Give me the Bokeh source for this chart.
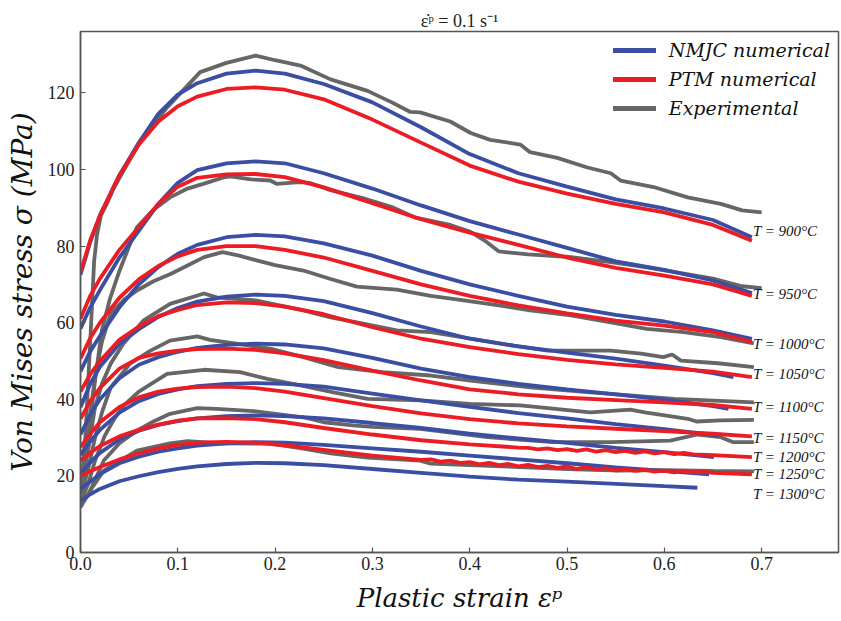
from bokeh.plotting import figure
from bokeh.models import Range1d, FixedTicker
from bokeh.embed import file_html
from bokeh.resources import INLINE
from bokeh.core.properties import value

# ---------------- data ----------------
temps = ["900", "950", "1000", "1050", "1100", "1150", "1200", "1250", "1300"]

grid = [0, 0.01, 0.02, 0.04, 0.06, 0.08, 0.10, 0.12, 0.15, 0.18, 0.21, 0.25,
        0.30, 0.35, 0.40, 0.45, 0.50, 0.55, 0.60, 0.65, 0.69]

# NMJC numerical (blue)
nmjc_x_900 = grid
nmjc_y_900 = [72.5, 81, 88, 98.5, 107, 114.5, 119.5, 122.5, 125, 125.8, 125, 122.3,
              117.5, 111, 104, 99, 95.5, 92.2, 89.8, 86.8, 82.3]
nmjc_x_950 = grid
nmjc_y_950 = [58.4, 64, 68.5, 77, 84, 91, 96.5, 99.8, 101.6, 102.1, 101.6, 99,
              95, 90.6, 86.5, 83, 79.5, 76, 73.8, 71, 67.7]
nmjc_x_1000 = grid
nmjc_y_1000 = [47.3, 52.5, 56.5, 64, 70, 74.5, 78, 80.3, 82.3, 82.9, 82.5, 80.7,
               77.5, 73.5, 70, 67, 64.2, 62, 60.3, 58, 55.8]
nmjc_x_1050 = grid[:-1] + [0.671]
nmjc_y_1050 = [37.9, 44, 48.5, 54.5, 58.3, 61.5, 63.8, 65.5, 66.8, 67.3, 67, 65.6,
               62.5, 59, 55.8, 53.8, 52.2, 50.6, 48.8, 46.8, 45.8]
nmjc_x_1100 = grid[:-1] + [0.666]
nmjc_y_1100 = [30.8, 36, 40, 45.5, 49, 51, 52.4, 53.4, 54.2, 54.5, 54.3, 53.3,
               50.8, 48, 45.8, 44, 42.6, 41.3, 39.9, 38.2, 37.5]
nmjc_x_1150 = grid[:-1] + [0.656]
nmjc_y_1150 = [25.5, 29, 32, 36.5, 39.5, 41.4, 42.6, 43.4, 44, 44.2, 44, 43.3,
               41.5, 39.7, 38, 36.4, 35, 33.5, 32.2, 30.7, 30.5]
nmjc_x_1200 = grid[:-2] + [0.651]
nmjc_y_1200 = [20.5, 23.5, 26, 29.5, 31.8, 33.3, 34.3, 35, 35.6, 35.8, 35.6, 35,
               33.8, 32.5, 31, 29.8, 28.6, 27.3, 26.2, 24.9]
nmjc_x_1250 = grid[:-2] + [0.646]
nmjc_y_1250 = [16.6, 18.5, 20.5, 23.3, 25, 26.3, 27.2, 27.9, 28.5, 28.8, 28.7, 28.1,
               27.2, 26.3, 25.3, 24.3, 23.3, 22.2, 21.3, 20.4]
nmjc_x_1300 = grid[:-2] + [0.634]
nmjc_y_1300 = [13.4, 15.2, 16.6, 18.6, 19.9, 21, 21.8, 22.5, 23.1, 23.4, 23.3, 22.8,
               21.8, 20.8, 19.8, 19, 18.5, 17.9, 17.3, 16.9]

# PTM numerical (red)
ptm_x_900 = grid
ptm_y_900 = [73.2, 81.5, 88, 98.5, 106.5, 112.5, 116.5, 119, 121, 121.4, 120.8, 118.3,
             113, 107, 101, 96.8, 93.7, 91, 88.8, 85.5, 81.4]
ptm_x_950 = grid
ptm_y_950 = [61, 67, 71.5, 79, 85, 91, 95.5, 97.8, 98.7, 98.8, 98, 95.3,
             91.2, 87, 83.5, 80.3, 77, 74.3, 72.3, 70, 67]
ptm_x_1000 = grid
ptm_y_1000 = [50.6, 56, 60, 66.5, 71.3, 74.8, 77.3, 79, 80, 80, 79, 77,
              73.5, 70, 67, 64.5, 62.4, 60.5, 59.2, 57.5, 55]
ptm_x_1050 = grid
ptm_y_1050 = [42, 46.5, 50, 55.5, 59, 61.7, 63.3, 64.6, 65.3, 65.1, 64.2, 62.2,
              58.8, 55.8, 53.6, 51.8, 50.3, 49.1, 48.2, 47.2, 45.8]
ptm_x_1100 = grid
ptm_y_1100 = [34.9, 39.5, 43, 48, 50.8, 52, 52.7, 53.1, 53.2, 52.9, 52, 50.2,
              47.5, 44.9, 42.6, 41.3, 40.4, 39.8, 39.2, 38.5, 37.5]
ptm_x_1150 = grid
ptm_y_1150 = [27.5, 31, 34, 38, 40.5, 42, 42.8, 43.2, 43.3, 42.9, 42, 40.3,
              38.2, 36.3, 34.8, 33.7, 32.9, 32.3, 31.7, 31, 30.3]
ptm_x_1200 = [0, 0.01, 0.02, 0.04, 0.06, 0.08, 0.10, 0.12, 0.15, 0.18, 0.21, 0.25,
              0.30, 0.35, 0.40, 0.45, 0.46, 0.47, 0.48, 0.49, 0.50, 0.51, 0.52,
              0.53, 0.54, 0.55, 0.56, 0.57, 0.58, 0.59, 0.60, 0.61, 0.62, 0.63,
              0.65, 0.69]
ptm_y_1200 = [24, 26, 27.8, 30.3, 32, 33.4, 34.4, 35, 35.1, 34.8, 34, 32.5,
              30.8, 29.3, 28.2, 27.4, 27.3, 26.9, 27.2, 26.7, 27.0, 26.5, 26.9,
              26.3, 26.7, 26.2, 26.5, 26.0, 26.4, 25.9, 26.2, 25.7, 26.0, 25.6,
              25.4, 24.9]
ptm_x_1250 = [0, 0.01, 0.02, 0.04, 0.06, 0.08, 0.10, 0.12, 0.15, 0.18, 0.21, 0.25,
              0.30, 0.35, 0.36, 0.37, 0.38, 0.39, 0.40, 0.41, 0.42, 0.43, 0.44,
              0.45, 0.46, 0.47, 0.48, 0.49, 0.50, 0.51, 0.52, 0.53, 0.54, 0.55,
              0.56, 0.57, 0.58, 0.59, 0.60, 0.61, 0.62, 0.63, 0.64, 0.65, 0.69]
ptm_y_1250 = [20.1, 21.2, 22.3, 24.3, 25.9, 27.2, 28.1, 28.7, 28.9, 28.7, 28, 26.8,
              25.3, 24.2, 24.3, 23.7, 24.0, 23.4, 23.6, 23.0, 23.4, 22.8, 23.1,
              22.5, 22.9, 22.3, 22.6, 22.1, 22.5, 21.8, 22.2, 21.7, 22.0, 21.4,
              21.8, 21.3, 21.6, 21.1, 21.4, 20.9, 21.3, 20.9, 21.1, 20.8, 20.4]

# Experimental (gray)
exp_x_900 = [0, 0.005, 0.01, 0.014, 0.017, 0.021, 0.027, 0.034, 0.045, 0.062, 0.089,
             0.123, 0.15, 0.18, 0.20, 0.226, 0.257, 0.295, 0.32, 0.339, 0.349, 0.38,
             0.401, 0.421, 0.452, 0.462, 0.49, 0.521, 0.545, 0.555, 0.589, 0.624,
             0.658, 0.68, 0.70]
exp_y_900 = [14, 30, 55, 76, 83, 88, 91, 95, 100, 107.5, 116.2,
             125.4, 127.8, 129.7, 128.5, 127.1, 123.5, 120.5, 117.5, 115, 114.9, 112.5,
             109.5, 107.7, 106.5, 104.5, 103, 100.5, 99, 97.1, 95.4, 92.7,
             91, 89.3, 88.8]
exp_x_950 = [0, 0.008, 0.015, 0.022, 0.03, 0.04, 0.051, 0.058, 0.075, 0.092, 0.11,
             0.127, 0.147, 0.154, 0.175, 0.195, 0.202, 0.225, 0.235, 0.257, 0.29,
             0.32, 0.343, 0.38, 0.40, 0.415, 0.43, 0.46, 0.50, 0.545, 0.58, 0.62,
             0.65, 0.68, 0.70]
exp_y_950 = [15, 30, 45, 58, 66, 73.5, 80.6, 84.9, 89.5, 92.7, 95,
             96.3, 97.9, 98.2, 97.4, 97.1, 96.2, 96.7, 96.5, 94.6, 92.5,
             90.2, 87.5, 85.5, 83.8, 81.5, 78.6, 77.8, 77.2, 75.8, 74.5, 72.8,
             71.5, 69.5, 69.0]
exp_x_1000 = [0, 0.008, 0.015, 0.022, 0.031, 0.045, 0.058, 0.075, 0.0925, 0.11, 0.127,
              0.146, 0.163, 0.182, 0.20, 0.229, 0.257, 0.284, 0.325, 0.36, 0.394,
              0.43, 0.462, 0.504, 0.545, 0.582, 0.62, 0.658, 0.692]
exp_y_1000 = [17, 32, 46, 55, 62.3, 66, 68.4, 70.8, 72.7, 74.9, 77.1,
              78.4, 77.5, 76.2, 75, 73.6, 71.4, 69.4, 68.6, 67, 65.8,
              64.5, 63.2, 61.9, 60.1, 58.4, 57.5, 56.2, 54.6]
exp_x_1050 = [0, 0.008, 0.015, 0.022, 0.031, 0.044, 0.065, 0.092, 0.127, 0.14, 0.18,
              0.229, 0.257, 0.284, 0.325, 0.36, 0.401, 0.445, 0.48, 0.545, 0.576,
              0.599, 0.608, 0.617, 0.655, 0.692]
exp_y_1050 = [16, 27, 38, 44, 49.3, 54.5, 60.6, 64.9, 67.6, 66.6, 65.8,
              63.2, 61.4, 60.1, 58, 57.5, 55.8, 54, 52.7, 52.7, 51.9,
              51, 51.7, 50.1, 49.4, 48.4]
exp_x_1100 = [0, 0.008, 0.015, 0.022, 0.031, 0.051, 0.072, 0.092, 0.12, 0.133, 0.16,
              0.195, 0.229, 0.265, 0.31, 0.36, 0.401, 0.462, 0.524, 0.545, 0.61,
              0.692]
exp_y_1100 = [14, 22, 30, 36.5, 43.1, 49.3, 52.7, 55.3, 56.4, 55.5, 54.5,
              53.2, 51, 48.4, 47.1, 46.2, 44.9, 43.1, 41.8, 41.4, 40.1,
              39.2]
exp_x_1150 = [0, 0.008, 0.015, 0.025, 0.035, 0.045, 0.06, 0.089, 0.127, 0.164, 0.192,
              0.226, 0.26, 0.295, 0.35, 0.40, 0.452, 0.524, 0.565, 0.58, 0.624,
              0.633, 0.658, 0.692]
exp_y_1150 = [13, 18, 24, 30.5, 35, 38.5, 42, 46.6, 47.7, 47.1, 45.3,
              43.6, 41.8, 40.1, 39.7, 38.8, 38.4, 36.6, 37.3, 36.6, 34.9,
              34.2, 34.5, 34.6]
exp_x_1200 = [0, 0.008, 0.015, 0.024, 0.04, 0.058, 0.075, 0.092, 0.12, 0.14, 0.178,
              0.229, 0.25, 0.28, 0.30, 0.349, 0.418, 0.486, 0.545, 0.606, 0.634,
              0.658, 0.671, 0.692]
exp_y_1200 = [12.5, 15, 19, 24, 28.5, 31.8, 34.2, 36.2, 37.7, 37.5, 36.9,
              35.3, 34.0, 33.2, 32.8, 32.3, 30.1, 28.8, 28.8, 29.2, 30.8,
              30.1, 28.8, 28.8]
exp_x_1250 = [0, 0.01, 0.024, 0.058, 0.092, 0.11, 0.144, 0.195, 0.229, 0.257, 0.295,
              0.349, 0.36, 0.40, 0.452, 0.50, 0.555, 0.60, 0.65, 0.692]
exp_y_1250 = [11.8, 16.2, 21.4, 26.6, 28.5, 29.1, 28.5, 28.4, 27.1, 25.9, 24.8,
              24, 23.2, 22.8, 22.3, 21.8, 21.4, 21.5, 21.3, 21.2]

label_texts = ["T = 900°C", "T = 950°C", "T = 1000°C", "T = 1050°C", "T = 1100°C",
               "T = 1150°C", "T = 1200°C", "T = 1250°C", "T = 1300°C"]
label_y = [84.0, 67.5, 54.5, 46.6, 38.1, 29.9, 24.9, 20.5, 15.3]

# ---------------- styling ----------------
BLUE = "#3a4ea3"
RED = "#ec1c24"
GRAY = "#666666"
AX = "#555555"
SERIF = "Liberation Serif"
WIDE = "DejaVu Serif"
LW = 3.8

p = figure(width=841, height=621, output_backend="svg", toolbar_location=None,
           x_range=Range1d(0, 0.779), y_range=Range1d(0, 136))
p.min_border_left = 80
p.min_border_right = 3
p.min_border_top = 31
p.min_border_bottom = 69
p.background_fill_color = "white"
p.border_fill_color = "white"
p.grid.visible = False
p.outline_line_color = AX
p.outline_line_width = 1.5

p.title.text = "ε̇ᵖ = 0.1 s⁻¹"
p.title.align = "center"
p.title.text_font = SERIF
p.title.text_font_size = "18px"
p.title.text_font_style = "normal"
p.title.text_color = "#222222"
p.title.standoff = 1

for ax in (p.xaxis[0], p.yaxis[0]):
    ax.axis_line_color = AX
    ax.axis_line_width = 1.5
    ax.major_tick_line_color = AX
    ax.major_tick_line_width = 1.2
    ax.major_tick_in = 5
    ax.major_tick_out = 0
    ax.minor_tick_line_color = None
    ax.major_label_text_font = SERIF
    ax.major_label_text_font_size = "18px"
    ax.major_label_text_color = "#222222"
    ax.axis_label_text_font = WIDE
    ax.axis_label_text_font_style = "italic"
    ax.axis_label_text_color = "#111111"

p.xaxis.axis_label_text_font_size = "26px"
p.yaxis.axis_label_text_font_size = "28px"
p.xaxis.ticker = FixedTicker(ticks=[0.0, 0.1, 0.2, 0.3, 0.4, 0.5, 0.6, 0.7])
p.yaxis.ticker = FixedTicker(ticks=[0, 20, 40, 60, 80, 100, 120])
p.xaxis.major_label_overrides = {0.0: "0.0", 0.1: "0.1", 0.2: "0.2", 0.3: "0.3",
                                 0.4: "0.4", 0.5: "0.5", 0.6: "0.6", 0.7: "0.7"}
p.xaxis.major_label_standoff = 4
p.yaxis.major_label_standoff = 6
p.xaxis.axis_label = "Plastic strain εᵖ"
p.yaxis.axis_label = "Von Mises stress σ (MPa)"
p.xaxis.axis_label_standoff = 10
p.yaxis.axis_label_standoff = 6

g = globals()
for t in temps[:-1]:
    p.line(g["exp_x_" + t], g["exp_y_" + t], line_color=GRAY, line_width=LW,
           legend_label="Experimental")
for t in temps:
    p.line(g["nmjc_x_" + t], g["nmjc_y_" + t], line_color=BLUE, line_width=LW,
           legend_label="NMJC numerical")
for t in temps[:-1]:
    p.line(g["ptm_x_" + t], g["ptm_y_" + t], line_color=RED, line_width=LW,
           legend_label="PTM numerical")

# temperature labels at the right end of curves
label_x = [max(g["ptm_x_900"])] * len(label_texts)
p.text(x=label_x, y=label_y, text=label_texts, text_font=value(SERIF),
       text_font_style="italic", text_font_size="15px", text_color="#111111",
       text_align="left", text_baseline="middle", x_offset=1)

lg = p.legend[0]
items = {it.label.value: it for it in lg.items}
lg.items = [items["NMJC numerical"], items["PTM numerical"], items["Experimental"]]
lg.location = "top_right"
lg.border_line_alpha = 0
lg.background_fill_alpha = 0
lg.label_text_font = WIDE
lg.label_text_font_style = "italic"
lg.label_text_font_size = "19px"
lg.label_text_color = "#111111"
lg.glyph_width = 43
lg.glyph_height = 20
lg.label_height = 20
lg.spacing = 7
lg.label_standoff = 13
lg.margin = 2
lg.padding = 6

open("out.html", "w").write(file_html(p, INLINE))
